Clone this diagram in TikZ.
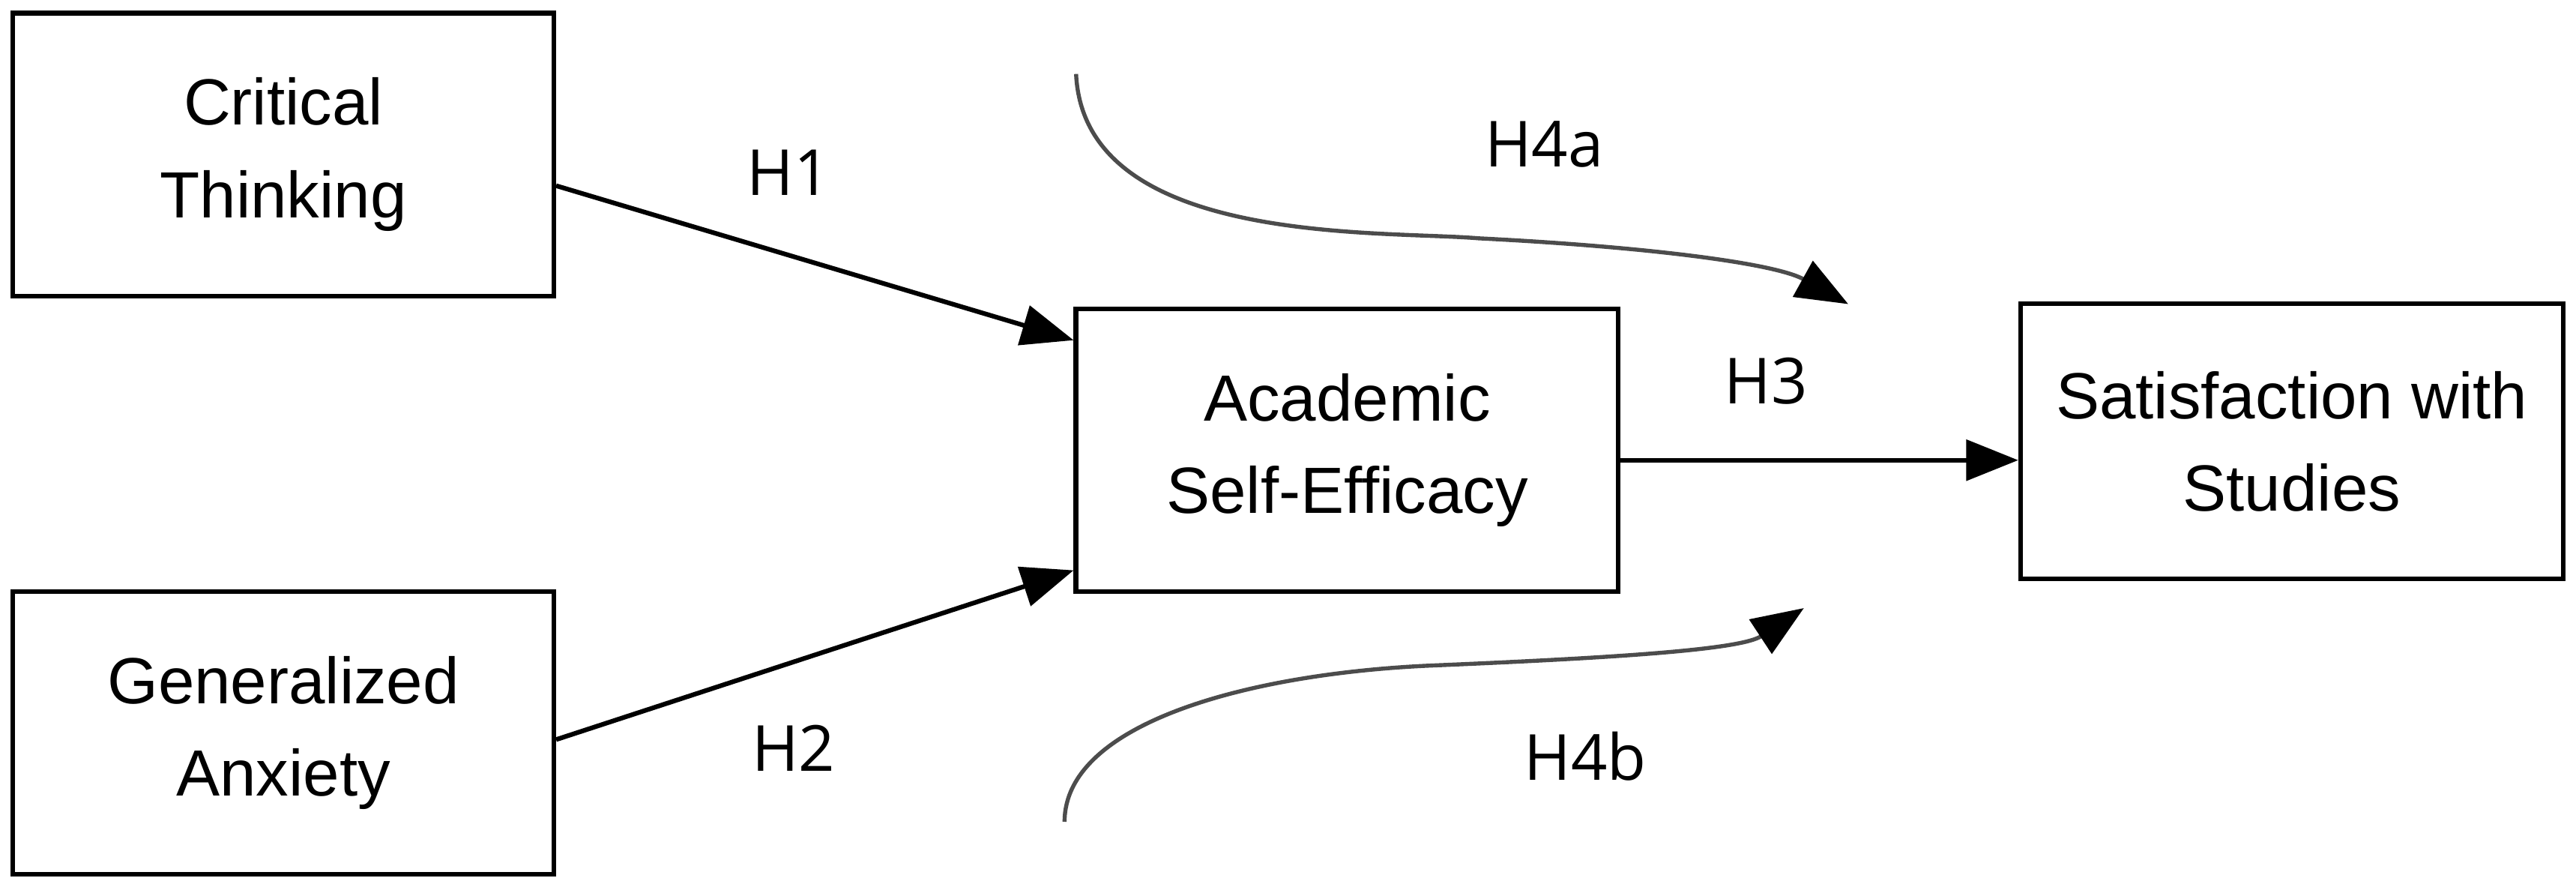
\documentclass[tikz,border=0pt]{standalone}
\usepackage{fontspec}
\setmainfont{Liberation Sans}
\newfontfamily\labfont{Open Sans}
\usetikzlibrary{arrows.meta}
\begin{document}
\begin{tikzpicture}[x=0.01cm,y=-0.01cm,
  box/.style={draw,line width=0.8pt,align=center,font=\fontsize{11.3}{16}\selectfont},
  arr/.style={line width=0.8pt,-{Triangle[length=9pt,width=7pt]}},
  curv/.style={line width=0.7pt,draw=black!70,-{Triangle[length=9pt,width=7pt,fill=black,color=black]}},
  lab/.style={font=\labfont\fontsize{11}{13}\selectfont}]
\useasboundingbox (0,0) rectangle (1568,545);
\node[box,minimum width=3.29cm,minimum height=1.72cm] (ct) at (172.5,94) {Critical\\Thinking};
\node[box,minimum width=3.29cm,minimum height=1.72cm] (ga) at (172.5,446) {Generalized\\Anxiety};
\node[box,minimum width=3.30cm,minimum height=1.72cm] (ase) at (820,274) {Academic\\Self-Efficacy};
\node[box,minimum width=3.30cm,minimum height=1.67cm] (ss) at (1395,268.5) {Satisfaction with\\Studies};
\draw[arr] (ct.east|-0,113) -- (ase.west|-0,207);
\draw[arr] (ga.east|-0,450) -- (ase.west|-0,347);
\draw[arr] (ase.east|-0,280) -- (ss.west|-0,280);
\coordinate (a1) at (655,45); \coordinate (a2) at (1125,185);
\coordinate (b1) at (648,500); \coordinate (b2) at (1098,370);
\draw[curv] (a1) .. controls (660,150) and (840,140) .. (900,145) .. controls (1000,150) and (1080,160) .. (a2);
\draw[curv] (b1) .. controls (648,440) and (760,410) .. (870,405) .. controls (990,400) and (1060,395) .. (b2);
\node[lab] at (480,105) {H1};
\node[lab] at (483,455) {H2};
\node[lab] at (1075,232) {H3};
\node[lab] at (940,88) {H4a};
\node[lab] at (965,460) {H4b};
\end{tikzpicture}
\end{document}
